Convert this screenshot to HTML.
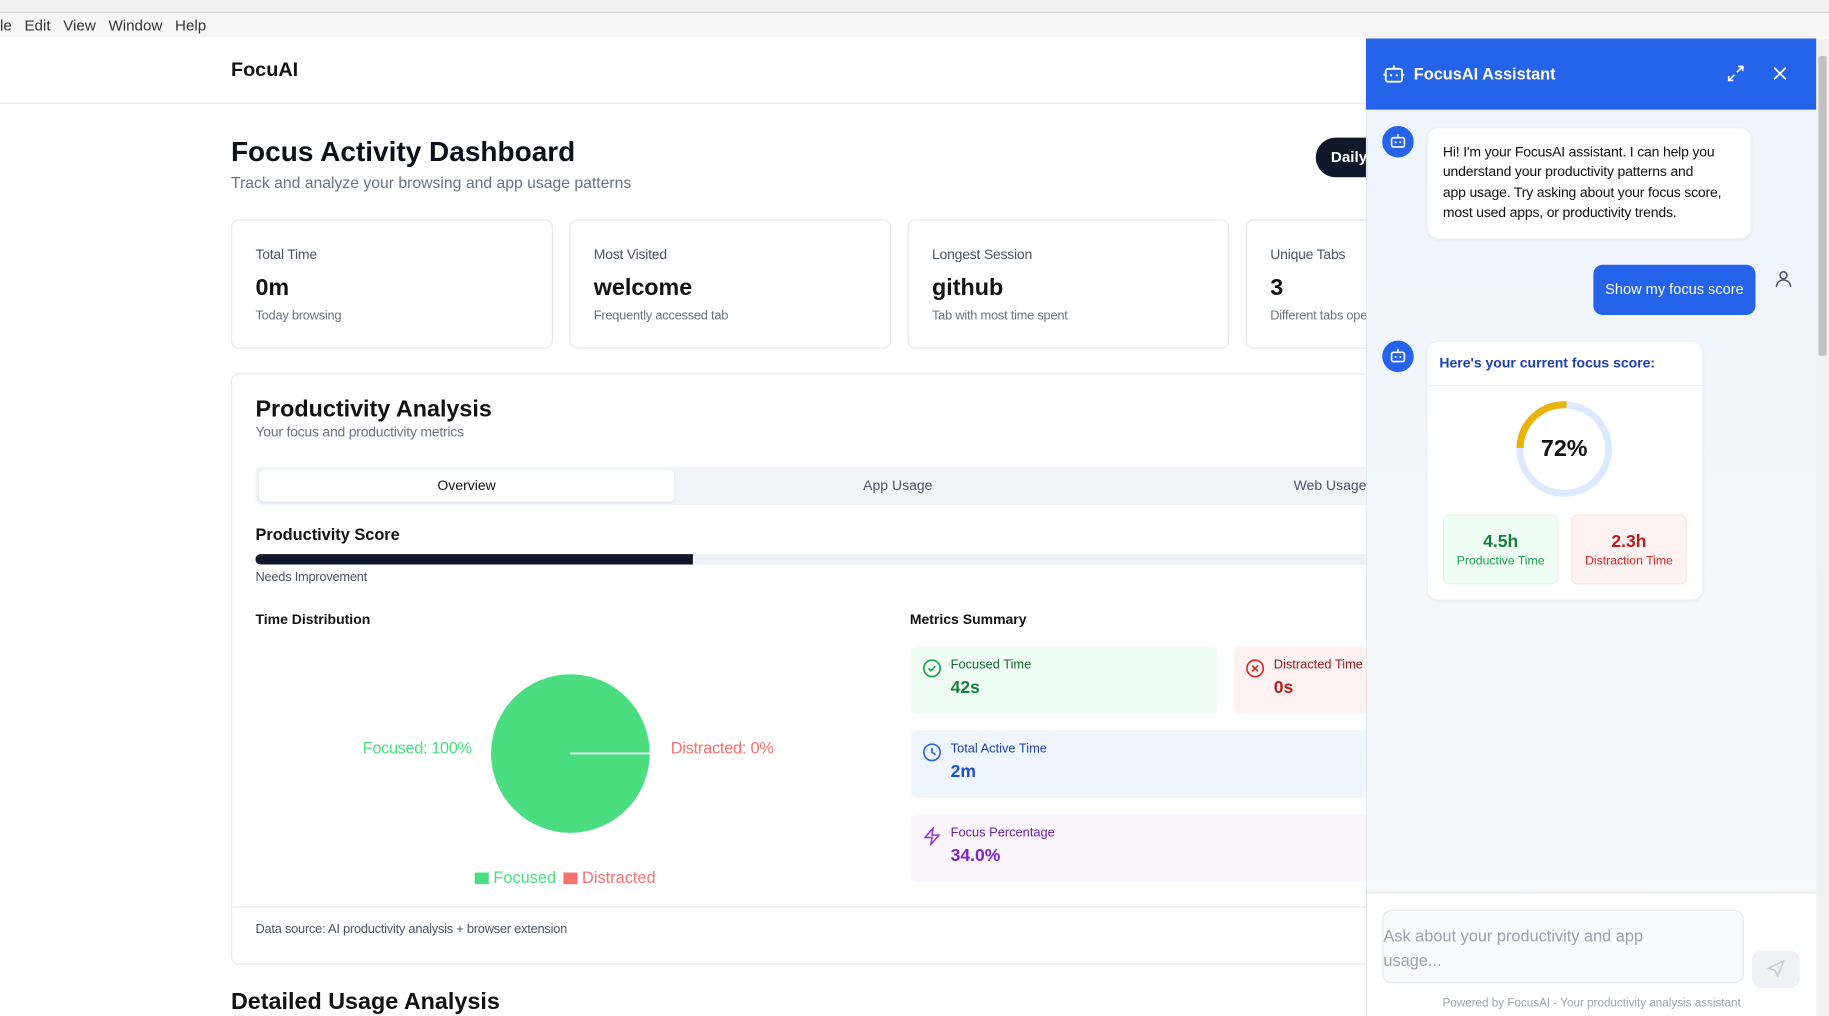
<!DOCTYPE html>
<html><head><meta charset="utf-8"><style>
*{box-sizing:border-box;margin:0;padding:0}
html,body{width:1829px;height:1016px;overflow:hidden;background:#fff;font-family:"Liberation Sans",sans-serif}
#w{position:absolute;left:0;top:0;width:1568px;height:871px;transform:scale(1.16645);transform-origin:0 0;overflow:hidden}
.a{position:absolute;white-space:nowrap}
.card{position:absolute;border:1px solid #e5e7eb;border-radius:7px;background:#fff}
.lbl{font-size:12px;color:#4b5563;letter-spacing:-0.2px}
.val{font-size:20px;font-weight:bold;color:#111}
.sub{font-size:11px;color:#6b7280;letter-spacing:-0.2px}
.m{position:absolute;border-radius:5px}
.m .t{position:absolute;left:34px;top:10px;font-size:11px}
.m .v{position:absolute;left:34px;top:27px;font-size:15px;font-weight:bold}
.m svg{position:absolute;left:10px;top:11px}
</style></head><body><div id="w">
<div class="a" style="left:0;top:0;width:1568px;height:11px;background:#f0f0f0;border-bottom:1px solid #cfcfcf"></div>
<div class="a" style="left:0;top:11px;width:1568px;height:21px;background:#f6f6f6"></div>
<div class="a" style="left:0;top:14px;font-size:13px;color:#333;word-spacing:0">le&nbsp;&nbsp;&nbsp;Edit&nbsp;&nbsp;&nbsp;View&nbsp;&nbsp;&nbsp;Window&nbsp;&nbsp;&nbsp;Help</div>
<div class="a" style="left:0;top:88px;width:1171px;height:1px;background:#e5e7eb"></div>
<div class="a" style="left:198px;top:50px;font-size:17px;font-weight:bold;color:#111">FocuAI</div>
<div class="a" style="left:198px;top:117px;font-size:24px;font-weight:bold;color:#0b0f1a">Focus Activity Dashboard</div>
<div class="a" style="left:198px;top:149px;font-size:13.5px;color:#6b7280">Track and analyze your browsing and app usage patterns</div>
<div class="a" style="left:1128px;top:118px;width:80px;height:34px;border-radius:17px;background:#0f172a;color:#fff;font-size:13px;font-weight:bold;padding:9px 13px">Daily</div>

<div class="card" style="left:198px;top:188px;width:276px;height:111px"><div class="a lbl" style="left:20px;top:22px">Total Time</div><div class="a val" style="left:20px;top:47px">0m</div><div class="a sub" style="left:20px;top:76px">Today browsing</div></div>
<div class="card" style="left:488px;top:188px;width:276px;height:111px"><div class="a lbl" style="left:20px;top:22px">Most Visited</div><div class="a val" style="left:20px;top:47px">welcome</div><div class="a sub" style="left:20px;top:76px">Frequently accessed tab</div></div>
<div class="card" style="left:778px;top:188px;width:276px;height:111px"><div class="a lbl" style="left:20px;top:22px">Longest Session</div><div class="a val" style="left:20px;top:47px">github</div><div class="a sub" style="left:20px;top:76px">Tab with most time spent</div></div>
<div class="card" style="left:1068px;top:188px;width:276px;height:111px"><div class="a lbl" style="left:20px;top:22px">Unique Tabs</div><div class="a val" style="left:20px;top:47px">3</div><div class="a sub" style="left:20px;top:76px">Different tabs opened</div></div>

<div class="card" style="left:198px;top:320px;width:1100px;height:507px"></div>
<div class="a" style="left:219px;top:340px;font-size:20px;font-weight:bold;color:#111">Productivity Analysis</div>
<div class="a" style="left:219px;top:363px;font-size:12px;color:#6b7280;letter-spacing:-0.2px">Your focus and productivity metrics</div>
<div class="a" style="left:219px;top:400px;width:980px;height:33px;background:#f1f5f9;border-radius:5px"></div>
<div class="a" style="left:222px;top:403px;width:356px;height:27px;background:#fff;border-radius:4px;box-shadow:0 1px 2px rgba(0,0,0,.08);text-align:center;font-size:12px;line-height:27px;color:#111">Overview</div>
<div class="a" style="left:740px;top:409px;font-size:12px;color:#4b5563">App Usage</div>
<div class="a" style="left:1109px;top:409px;font-size:12px;color:#4b5563">Web Usage</div>
<div class="a" style="left:219px;top:450px;font-size:14px;font-weight:bold;color:#111">Productivity Score</div>
<div class="a" style="left:219px;top:475px;width:980px;height:9px;background:#eef2f8;border-radius:5px"></div>
<div class="a" style="left:219px;top:475px;width:375px;height:9px;background:#0f172a;border-radius:5px 0 0 5px"></div>
<div class="a" style="left:219px;top:489px;font-size:11px;color:#4b5563;letter-spacing:-0.2px">Needs Improvement</div>
<div class="a" style="left:219px;top:524px;font-size:12px;font-weight:bold;color:#111">Time Distribution</div>
<div class="a" style="left:780px;top:524px;font-size:12px;font-weight:bold;color:#111">Metrics Summary</div>
<svg class="a" style="left:400px;top:560px" width="180" height="180"><circle cx="89" cy="86" r="68" fill="#4ade80"/><line x1="89" y1="86" x2="157" y2="86" stroke="#fff" stroke-width="1.5"/></svg>
<div class="a" style="left:311px;top:633px;font-size:14px;color:#4ade80;letter-spacing:-0.3px">Focused: 100%</div>
<div class="a" style="left:575px;top:633px;font-size:14px;color:#f87171;letter-spacing:-0.2px">Distracted: 0%</div>
<div class="a" style="left:407px;top:748px;width:12px;height:10px;background:#4ade80"></div>
<div class="a" style="left:423px;top:744px;font-size:14px;color:#4ade80">Focused</div>
<div class="a" style="left:483px;top:748px;width:12px;height:10px;background:#f87171"></div>
<div class="a" style="left:499px;top:744px;font-size:14px;color:#f87171">Distracted</div>

<div class="m" style="left:781px;top:554px;width:263px;height:58px;background:#f0fdf4"><svg width="16" height="16"><circle cx="8" cy="8" r="7" fill="none" stroke="#16a34a" stroke-width="1.4"/><path d="M5 8l2 2 4-4" fill="none" stroke="#16a34a" stroke-width="1.4"/></svg><div class="t" style="color:#166534">Focused Time</div><div class="v" style="color:#15803d">42s</div></div>
<div class="m" style="left:1058px;top:554px;width:200px;height:58px;background:#fef2f2"><svg width="16" height="16"><circle cx="8" cy="8" r="7" fill="none" stroke="#dc2626" stroke-width="1.4"/><path d="M5.5 5.5l5 5M10.5 5.5l-5 5" stroke="#dc2626" stroke-width="1.4"/></svg><div class="t" style="color:#991b1b">Distracted Time</div><div class="v" style="color:#b91c1c">0s</div></div>
<div class="m" style="left:781px;top:626px;width:480px;height:58px;background:#eff6ff"><svg width="16" height="16"><circle cx="8" cy="8" r="7" fill="none" stroke="#2563eb" stroke-width="1.4"/><path d="M8 4v4l3 2" fill="none" stroke="#2563eb" stroke-width="1.4"/></svg><div class="t" style="color:#1e40af">Total Active Time</div><div class="v" style="color:#1d4ed8">2m</div></div>
<div class="m" style="left:781px;top:698px;width:480px;height:58px;background:#faf5ff"><svg width="16" height="16"><path d="M9 1L2 9h6l-1 6 7-8H8z" fill="none" stroke="#9333ea" stroke-width="1.3"/></svg><div class="t" style="color:#6b21a8">Focus Percentage</div><div class="v" style="color:#7e22ce">34.0%</div></div>
<div class="a" style="left:199px;top:777px;width:1000px;height:1px;background:#e5e7eb"></div>
<div class="a" style="left:219px;top:791px;font-size:11px;color:#4b5563;letter-spacing:-0.2px">Data source: AI productivity analysis + browser extension</div>
<div class="a" style="left:198px;top:848px;font-size:20px;font-weight:bold;color:#111">Detailed Usage Analysis</div>

<!-- chat panel -->
<div class="a" style="left:1171px;top:33px;width:386px;height:838px;background:linear-gradient(#eef4fd,#f8fafc);border-left:1px solid #e5e7eb"></div>
<div class="a" style="left:1557px;top:33px;width:11px;height:838px;background:#f1f1f1"></div>
<div class="a" style="left:1559px;top:48px;width:7px;height:257px;background:#c1c1c1;border-radius:2px"></div>
<div class="a" style="left:1171px;top:33px;width:386px;height:61px;background:#2563eb"></div>
<svg class="a" style="left:1185px;top:54px" width="20" height="18"><rect x="3" y="5" width="14" height="11" rx="2" fill="none" stroke="#fff" stroke-width="1.6"/><path d="M10 5V2M1 10h2M17 10h2" stroke="#fff" stroke-width="1.6"/><circle cx="7.5" cy="10.5" r="1" fill="#fff"/><circle cx="12.5" cy="10.5" r="1" fill="#fff"/></svg>
<div class="a" style="left:1212px;top:55px;font-size:14px;font-weight:bold;color:#fff">FocusAI Assistant</div>
<svg class="a" style="left:1481px;top:56px" width="14" height="14"><path d="M8 6l5-5M9 1h4v4M6 8l-5 5M1 9v4h4" fill="none" stroke="#fff" stroke-width="1.4"/></svg>
<svg class="a" style="left:1520px;top:57px" width="12" height="12"><path d="M1 1l10 10M11 1L1 11" stroke="#fff" stroke-width="1.5"/></svg>

<div class="a" style="left:1185px;top:108px;width:27px;height:27px;border-radius:50%;background:#2563eb"></div>
<svg class="a" style="left:1191px;top:114px" width="15" height="14"><rect x="2" y="4" width="11" height="8" rx="1.5" fill="none" stroke="#fff" stroke-width="1.4"/><path d="M7.5 4V1" stroke="#fff" stroke-width="1.4"/><circle cx="5.5" cy="8" r=".9" fill="#fff"/><circle cx="9.5" cy="8" r=".9" fill="#fff"/></svg>
<div class="a" style="left:1223px;top:109px;width:279px;height:96px;background:#fff;border-radius:10px;border:1px solid #eef0f3;box-shadow:0 1px 2px rgba(0,0,0,.05)"></div>
<div class="a" style="left:1237px;top:122px;font-size:12px;line-height:17.3px;color:#111;letter-spacing:-0.15px">Hi! I'm your FocusAI assistant. I can help you<br>understand your productivity patterns and<br>app usage. Try asking about your focus score,<br>most used apps, or productivity trends.</div>
<div class="a" style="left:1366px;top:227px;width:139px;height:43px;background:#2563eb;border-radius:8px;color:#fff;font-size:12.5px;text-align:center;line-height:43px">Show my focus score</div>
<svg class="a" style="left:1521px;top:231px" width="16" height="17"><circle cx="8" cy="5" r="3" fill="none" stroke="#4b5563" stroke-width="1.3"/><path d="M2 15c0-4 3-6 6-6s6 2 6 6" fill="none" stroke="#4b5563" stroke-width="1.3"/></svg>

<div class="a" style="left:1185px;top:292px;width:27px;height:27px;border-radius:50%;background:#2563eb"></div>
<svg class="a" style="left:1191px;top:298px" width="15" height="14"><rect x="2" y="4" width="11" height="8" rx="1.5" fill="none" stroke="#fff" stroke-width="1.4"/><path d="M7.5 4V1" stroke="#fff" stroke-width="1.4"/><circle cx="5.5" cy="8" r=".9" fill="#fff"/><circle cx="9.5" cy="8" r=".9" fill="#fff"/></svg>
<div class="a" style="left:1223px;top:292px;width:237px;height:223px;background:#fff;border-radius:10px;border:1px solid #eef0f3;box-shadow:0 1px 2px rgba(0,0,0,.05)"></div>
<div class="a" style="left:1234px;top:304px;font-size:12px;font-weight:bold;color:#1e40af">Here's your current focus score:</div>
<div class="a" style="left:1224px;top:330px;width:235px;height:1px;background:#eef0f3"></div>
<svg class="a" style="left:1297px;top:341px" width="88" height="88"><circle cx="44" cy="44" r="38" fill="none" stroke="#dbeafe" stroke-width="6"/><path d="M46 6 A38 38 0 0 0 6 43" fill="none" stroke="#eab308" stroke-width="6"/></svg>
<div class="a" style="left:1297px;top:374px;width:88px;text-align:center;font-size:20px;font-weight:bold;color:#111">72%</div>
<div class="a" style="left:1237px;top:441px;width:99px;height:60px;background:#f0fdf4;border:1px solid #dcfce7;border-radius:5px;text-align:center"><div style="margin-top:14px;font-size:15px;font-weight:bold;color:#15803d">4.5h</div><div style="font-size:10.5px;color:#16a34a;margin-top:2px">Productive Time</div></div>
<div class="a" style="left:1347px;top:441px;width:99px;height:60px;background:#fef2f2;border:1px solid #fee2e2;border-radius:5px;text-align:center"><div style="margin-top:14px;font-size:15px;font-weight:bold;color:#b91c1c">2.3h</div><div style="font-size:10.5px;color:#dc2626;margin-top:2px">Distraction Time</div></div>

<div class="a" style="left:1172px;top:765px;width:385px;height:106px;background:#fff;border-top:1px solid #e5e7eb"></div>
<div class="a" style="left:1185px;top:780px;width:310px;height:63px;border:1px solid #e5e7eb;border-radius:8px;background:#f9fafb"></div>
<div class="a" style="left:1186px;top:792px;font-size:14px;line-height:21px;color:#9ca3af;white-space:normal;width:260px">Ask about your productivity and app usage...</div>
<div class="a" style="left:1502px;top:815px;width:41px;height:32px;border-radius:8px;background:#eef2f7"></div>
<svg class="a" style="left:1515px;top:823px" width="15" height="15"><path d="M1 7l13-6-5 13-2-5z" fill="none" stroke="#c7cdd6" stroke-width="1.3"/></svg>
<div class="a" style="left:1172px;top:855px;width:385px;text-align:center;font-size:10px;color:#9ca3af">Powered by FocusAI - Your productivity analysis assistant</div>
</div></body></html>
